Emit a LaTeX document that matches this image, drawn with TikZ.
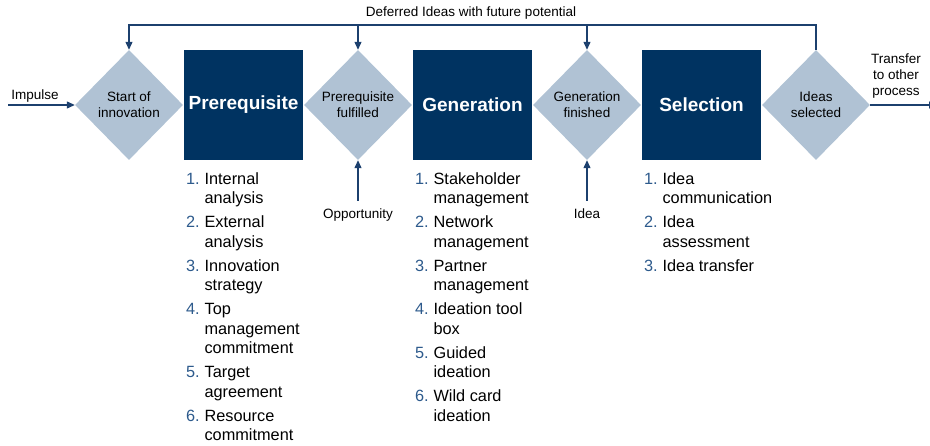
\documentclass[tikz,border=0pt]{standalone}
\usepackage{fontspec}
\setmainfont{Liberation Sans}
\usetikzlibrary{shapes.geometric,positioning,arrows.meta}

\definecolor{navy}{RGB}{0,51,97}
\definecolor{greyblue}{RGB}{176,194,212}
\definecolor{linkblue}{RGB}{28,64,110}
\definecolor{numblue}{RGB}{45,90,140}
\newcommand{\stepno}[1]{\textcolor{numblue}{#1.}}

\tikzset{
  gate/.style={diamond,fill=greyblue,minimum width=108pt,minimum height=110pt,
    inner sep=0pt,align=center,font=\fontsize{13.5}{16}\selectfont},
  phase/.style={rectangle,fill=navy,text=white,minimum width=119pt,
    minimum height=110pt,font=\fontsize{19}{22}\selectfont\bfseries},
  flow/.style={draw=linkblue,line width=1.2pt,-{Triangle[length=8pt,width=7pt]}},
  lbl/.style={font=\fontsize{13.5}{16}\selectfont,align=center,inner sep=0pt},
  steps/.style={anchor=north west,inner sep=0pt,font=\fontsize{16.3}{19.5}\selectfont}
}

\begin{document}
\begin{tikzpicture}[x=1pt,y=1pt,node distance=0.6pt]
    \useasboundingbox (0,0) rectangle (930,446);
    % gates and phases
    \node[gate] (start) at (129,341) {Start of\\innovation};
    \node[phase,right=of start] (pre) {Prerequisite};
    \node[gate,right=of pre] (fulfil) {Prerequisite\\fulfilled};
    \node[phase,right=of fulfil] (gen) {Generation};
    \node[gate,right=of gen] (finish) {Generation\\finished};
    \node[phase,right=of finish] (sel) {Selection};
    \node[gate,right=of sel] (chosen) {Ideas\\selected};

    % feedback loop on top
    \coordinate (fb) at (816,421);
    \draw[flow] (chosen.north) -- (chosen.north |- fb) -| (start.north);
    \draw[flow] (fulfil.north |- fb) -- (fulfil.north);
    \draw[flow] (finish.north |- fb) -- (finish.north);
    \node[lbl] (deferred) at (471,433) {Deferred Ideas with future potential};

    % inputs and output
    \coordinate (imp) at (8,341);
    \draw[flow] (imp) -- (start.west);
    \node[lbl] (implbl) at (35,350) {Impulse};
    \coordinate (out) at (937,341);
    \draw[flow] (chosen.east) -- (out);
    \node[lbl] (outlbl) at (896,370) {Transfer\\to other\\process};
    \coordinate (opp) at (fulfil.south |- 0,245);
    \draw[flow] (opp) -- (fulfil.south);
    \node[lbl,below=8pt of opp] (opplbl) {Opportunity};
    \coordinate (idea) at (finish.south |- 0,245);
    \draw[flow] (idea) -- (finish.south);
    \node[lbl,below=8pt of idea] (idealbl) {Idea};

    % step lists
    \node[steps] (prelist) at ([xshift=2pt,yshift=-10pt]pre.south west) {%
      \begin{tabular}{@{}l@{\hspace{5pt}}l@{}}
        \stepno1 & Internal\\ & analysis\\[4.5pt]
        \stepno2 & External\\ & analysis\\[4.5pt]
        \stepno3 & Innovation\\ & strategy\\[4.5pt]
        \stepno4 & Top\\ & management\\ & commitment\\[4.5pt]
        \stepno5 & Target\\ & agreement\\[4.5pt]
        \stepno6 & Resource\\ & commitment
      \end{tabular}};
    \node[steps] (genlist) at ([xshift=2pt,yshift=-10pt]gen.south west) {%
      \begin{tabular}{@{}l@{\hspace{5pt}}l@{}}
        \stepno1 & Stakeholder\\ & management\\[4.5pt]
        \stepno2 & Network\\ & management\\[4.5pt]
        \stepno3 & Partner\\ & management\\[4.5pt]
        \stepno4 & Ideation tool\\ & box\\[4.5pt]
        \stepno5 & Guided\\ & ideation\\[4.5pt]
        \stepno6 & Wild card\\ & ideation
      \end{tabular}};
    \node[steps] (sellist) at ([xshift=2pt,yshift=-10pt]sel.south west) {%
      \begin{tabular}{@{}l@{\hspace{5pt}}l@{}}
        \stepno1 & Idea\\ & communication\\[4.5pt]
        \stepno2 & Idea\\ & assessment\\[4.5pt]
        \stepno3 & Idea transfer
      \end{tabular}};
\end{tikzpicture}
\end{document}
